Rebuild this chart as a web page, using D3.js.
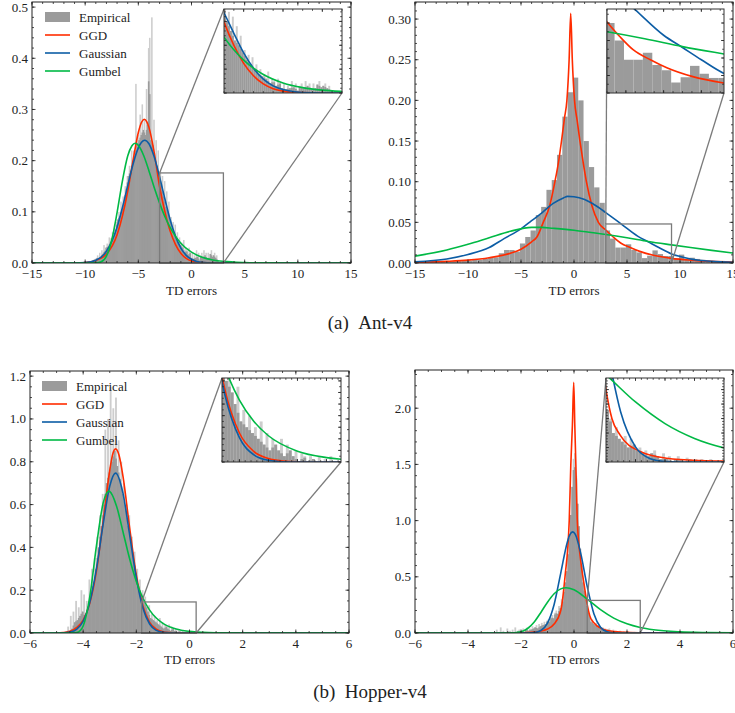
<!DOCTYPE html>
<html>
<head>
<meta charset="utf-8">
<script src="https://cdn.jsdelivr.net/npm/d3@7"></script>
<style>
  body { margin: 0; background: #fff; }
  svg text { fill: #222; }
</style>
</head>
<body>
<svg id="chart" width="735" height="713" font-family="'Liberation Serif', 'Times New Roman', 'DejaVu Serif', serif"></svg>
<script>
// ---- data ----
// (a) Ant-v4, left: fine-bin histogram, bin width 0.1 starting at -9.5
const antLeftHistStart = -9.5, antLeftBin = 0.1;
const antLeftHist = [
  0, 0.004, 0, 0.008, 0.003,   0.01, 0.015, 0.008, 0.02, 0.012,
  0.025, 0.018, 0.035, 0.024, 0.03,   0.038, 0.032, 0.05, 0.04, 0.048,
  0.06, 0.052, 0.075, 0.065, 0.08,   0.085, 0.1, 0.092, 0.12, 0.105,
  0.13, 0.12, 0.15, 0.145, 0.17,   0.17, 0.19, 0.18, 0.22, 0.2,
  0.22, 0.21, 0.35, 0.23, 0.25,   0.24, 0.29, 0.25, 0.31, 0.26,
  0.28, 0.25, 0.34, 0.27, 0.42,   0.44, 0.24, 0.48, 0.23, 0.28,
  0.2, 0.24, 0.19, 0.22, 0.17,   0.18, 0.15, 0.17, 0.13, 0.16,
  0.11, 0.14, 0.1, 0.12, 0.085,   0.09, 0.07, 0.08, 0.06, 0.075,
  0.05, 0.06, 0.04, 0.05, 0.035,   0.04, 0.03, 0.045, 0.02, 0.03,
  0.025, 0.015, 0.03, 0.02, 0.01,   0.02, 0.008, 0.015, 0.01, 0.025,
  0.012, 0.02, 0.005, 0.015, 0.02,   0.01, 0.025, 0.015, 0.02, 0.008,
  0.02, 0.01, 0.018, 0.025, 0.012,   0.015, 0.02, 0.01, 0.015, 0.005
];
const antLeftGGD = [[-15,0],[-11,0],[-10,0.001],[-9,0.005],[-8,0.017],[-7,0.055],[-6,0.14],[-5.5,0.2],[-5,0.255],[-4.7,0.275],[-4.45,0.281],[-4.2,0.276],[-4,0.265],[-3.5,0.215],[-3,0.149],[-2.5,0.1],[-2,0.062],[-1.5,0.036],[-1,0.019],[-0.5,0.009],[0,0.004],[1,0.0008],[2,0.0001],[3,0],[15,0]];
const antLeftGauss = [[-15,0],[-11,0.0001],[-10,0.0008],[-9,0.0052],[-8,0.0229],[-7,0.07],[-6.5,0.108],[-6,0.151],[-5.5,0.193],[-5,0.225],[-4.7,0.236],[-4.4,0.24],[-4,0.233],[-3.5,0.207],[-3,0.168],[-2.5,0.125],[-2,0.084],[-1.5,0.052],[-1,0.029],[-0.5,0.015],[0,0.0072],[0.5,0.0031],[1,0.0012],[2,0.0001],[3,0],[15,0]];
const antLeftGumbel = [[-15,0],[-9.5,0],[-9,0.0002],[-8.5,0.0023],[-8,0.0134],[-7.5,0.045],[-7,0.0986],[-6.5,0.16],[-6,0.209],[-5.6,0.229],[-5.3,0.234],[-5,0.23],[-4.5,0.21],[-4,0.18],[-3.5,0.147],[-3,0.117],[-2.5,0.0905],[-2,0.069],[-1.5,0.052],[-1,0.0387],[0,0.0211],[1,0.0113],[2,0.006],[3,0.0032],[5,0.0009],[7,0.0002],[10,0],[15,0]];

// (a) Ant-v4, right: bin width 0.5 starting at -15.1
const antRightHistStart = -15.1, antRightBin = 0.5;
const antRightHist = [
  0, 0.001, 0.0005, 0.001, 0.001, 0.0015, 0.002, 0.002, 0.0025, 0.003,
  0.003, 0.004, 0.004, 0.005, 0.007, 0.007, 0.012, 0.016, 0.016, 0.014,
  0.024, 0.032, 0.04, 0.059, 0.069, 0.09, 0.102, 0.133, 0.18, 0.21,
  0.228, 0.2, 0.15, 0.118, 0.093, 0.074, 0.04, 0.03, 0.019, 0.019,
  0.023, 0.016, 0.013, 0.006, 0.009, 0.0155, 0.011, 0.0086, 0.0086, 0.0057,
  0.0103, 0.0046, 0.0065, 0.005, 0.004, 0.003, 0.002, 0.002, 0.001, 0.001
];
const antRightGGD = [[-15,0.0008],[-12,0.002],[-10,0.0035],[-8,0.0065],[-6,0.012],[-5,0.017],[-4,0.026],[-3.5,0.032],[-2.9,0.05],[-2.3,0.07],[-1.8,0.1],[-1.45,0.125],[-1.18,0.15],[-0.9,0.178],[-0.67,0.2],[-0.46,0.25],[-0.31,0.307],[-0.16,0.25],[0.05,0.2],[0.3,0.175],[0.56,0.15],[0.85,0.125],[1.17,0.1],[1.7,0.07],[2.3,0.05],[3,0.0406],[3.7,0.032],[4.4,0.0246],[5.3,0.019],[6.2,0.0143],[7.5,0.0095],[9.2,0.0057],[11,0.0035],[13,0.002],[15,0.0012]];
const antRightGauss = [[-15,0.0015],[-12,0.005],[-10,0.0105],[-8,0.019],[-6.6,0.03],[-5,0.042],[-4,0.052],[-3,0.062],[-2,0.073],[-1,0.08],[-0.6,0.082],[0,0.0815],[1,0.078],[2,0.071],[3,0.062],[4.5,0.0475],[6,0.033],[7,0.026],[8,0.019],[9.2,0.0112],[10,0.008],[11,0.005],[13,0.002],[15,0.0008]];
const antRightGumbel = [[-15,0.0085],[-12,0.016],[-10,0.023],[-8,0.031],[-6,0.039],[-4,0.0438],[-3,0.0438],[-2,0.0427],[0,0.0402],[2,0.0368],[3,0.035],[5,0.031],[7,0.0265],[9.2,0.0223],[11,0.019],[13,0.0155],[15,0.0123]];

// (b) Hopper-v4, left: bin width 0.05 starting at -4.6
const hopLeftHistStart = -4.6, hopLeftBin = 0.05;
const hopLeftHist = [
  0.03, 0, 0.08, 0.02, 0.1,   0.05, 0.15, 0.06, 0.12, 0.08,
  0.2, 0.1, 0.18, 0.07, 0.15,   0.12, 0.25, 0.18, 0.3, 0.22,
  0.35, 0.3, 0.45, 0.4, 0.55,   0.5, 0.65, 0.6, 0.95, 0.7,
  1.0, 0.75, 1.15, 0.8, 1.05,   0.85, 1.1, 0.78, 0.9, 0.72,
  0.8, 0.65, 0.7, 0.58, 0.6,   0.5, 0.55, 0.42, 0.45, 0.35,
  0.38, 0.28, 0.3, 0.22, 0.25,   0.18, 0.2, 0.14, 0.17, 0.12,
  0.1, 0.13, 0.07, 0.09, 0.06,   0.08, 0.05, 0.06, 0.04, 0.07,
  0.03, 0.05, 0.02, 0.04, 0.03,   0.02, 0.04, 0.01, 0.03, 0.02,
  0.01, 0.02, 0, 0.015, 0.01,   0, 0.01, 0.005, 0, 0.01,
  0, 0.005, 0, 0.01, 0
];
const hopLeftGGD = [[-6,0],[-5,0],[-4.75,0.002],[-4.5,0.008],[-4.25,0.025],[-4,0.06],[-3.75,0.14],[-3.5,0.29],[-3.25,0.52],[-3,0.76],[-2.9,0.83],[-2.78,0.86],[-2.65,0.83],[-2.5,0.73],[-2.25,0.49],[-2,0.27],[-1.75,0.125],[-1.5,0.05],[-1.25,0.018],[-1,0.006],[-0.75,0.0018],[-0.5,0.0005],[0,0],[6,0]];
const hopLeftGauss = [[-6,0],[-5,0],[-4.75,0.0008],[-4.5,0.0042],[-4.25,0.0169],[-4,0.055],[-3.75,0.144],[-3.5,0.301],[-3.25,0.507],[-3,0.686],[-2.78,0.747],[-2.5,0.651],[-2.25,0.457],[-2,0.257],[-1.75,0.116],[-1.5,0.042],[-1.25,0.0123],[-1,0.0029],[-0.75,0.0005],[-0.5,0],[6,0]];
const hopLeftGumbel = [[-6,0],[-4.6,0],[-4.25,0.0019],[-4.1,0.0128],[-4,0.033],[-3.75,0.17],[-3.5,0.408],[-3.25,0.606],[-3.03,0.663],[-2.75,0.595],[-2.5,0.472],[-2.25,0.346],[-2,0.241],[-1.75,0.1625],[-1.5,0.107],[-1.25,0.07],[-1,0.0453],[-0.5,0.0186],[0,0.0076],[0.5,0.0031],[1,0.0013],[2,0.0002],[3,0],[6,0]];

// (b) Hopper-v4, right: bin width 0.05 starting at -3.0
const hopRightHistStart = -3.0, hopRightBin = 0.05;
const hopRightHist = [
  0, 0.03, 0, 0, 0.05, 0, 0.02, 0, 0, 0.04,
  0, 0.02, 0, 0.03, 0, 0.05, 0, 0.02, 0.03, 0,
  0.02, 0.04, 0, 0.03, 0.05, 0.02, 0.04, 0.03, 0.06, 0.04,
  0.05, 0.07, 0.04, 0.08, 0.06, 0.09, 0.07, 0.1, 0.08, 0.11,
  0.12, 0.1, 0.14, 0.16, 0.13, 0.18, 0.2, 0.17, 0.24, 0.22,
  0.3, 0.28, 0.38, 0.45, 0.55, 0.7, 0.85, 1.05, 1.3, 1.55,
  1.6, 1.4, 1.15, 0.95, 0.75, 0.6, 0.45, 0.38, 0.3, 0.24,
  0.18, 0.15, 0.1, 0.12, 0.08, 0.07, 0.09, 0.05, 0.08, 0.06,
  0.04, 0.05, 0.03, 0.04, 0.02, 0.03, 0.04, 0.02, 0.01, 0.03,
  0.01, 0.02, 0, 0.01, 0.02, 0.01, 0, 0.015, 0.01, 0,
  0.01, 0, 0.01, 0, 0, 0.01, 0, 0, 0.005, 0
];
const hopRightGGD = [[-6,0],[-3,0.0005],[-2,0.002],[-1.5,0.008],[-1.25,0.018],[-1,0.035],[-0.75,0.08],[-0.5,0.2],[-0.34,0.5],[-0.18,1.0],[-0.12,1.5],[-0.06,1.85],[-0.01,2.23],[0.03,1.85],[0.07,1.5],[0.125,1.0],[0.25,0.65],[0.39,0.42],[0.5,0.25],[0.6,0.15],[0.74,0.093],[1.08,0.036],[1.53,0.013],[2.1,0.005],[3,0.0015],[4,0.0005],[6,0]];
const hopRightGauss = [[-6,0],[-2,0],[-1.75,0.0003],[-1.5,0.004],[-1.25,0.022],[-1,0.088],[-0.75,0.254],[-0.5,0.533],[-0.25,0.81],[-0.15,0.877],[-0.05,0.9],[0.05,0.877],[0.25,0.713],[0.5,0.412],[0.75,0.172],[1,0.052],[1.25,0.0115],[1.5,0.0018],[1.75,0.0002],[2,0],[6,0]];
const hopRightGumbel = [[-6,0],[-3,0],[-2.5,0.0002],[-2,0.0113],[-1.75,0.04],[-1.5,0.098],[-1.25,0.183],[-1,0.274],[-0.75,0.349],[-0.5,0.3925],[-0.3,0.403],[0,0.384],[0.5,0.3008],[1,0.2072],[1.5,0.1326],[2,0.0814],[2.5,0.0487],[3,0.0287],[4,0.0098],[5,0.0033],[6,0.0011]];

const seriesNames = ["Empirical", "GGD", "Gaussian", "Gumbel"];
const captions = ["(a)\u00a0\u00a0Ant-v4", "(b)\u00a0\u00a0Hopper-v4"];

// ---- styling ----
const histColor = "#9b9b9b";
const spikeColor = "#cdcdcd";   // thin isolated bins render lighter in the original
const curveColors = {GGD: "#FF2C00", Gaussian: "#0C5DA5", Gumbel: "#00B945"};
const frameColor = "#222";
const markColor = "#7b7b7b";

const steps = (a, b, s) => d3.range(Math.round((b - a) / s) + 1).map(i => +(a + i * s).toFixed(6));

const panels = [
  {
    id: "antL", box: {left: 32, right: 351, top: 2, bottom: 263},
    xDomain: [-15, 15], yDomain: [0, 0.51],
    xMajor: steps(-15, 15, 5), xMinor: steps(-15, 15, 1),
    yMajor: steps(0, 0.5, 0.1), yMinor: steps(0, 0.5, 0.02), yFmt: ".1f",
    hist: antLeftHist, histStart: antLeftHistStart, bin: antLeftBin, pad: 0.5, fine: true,
    curves: {GGD: antLeftGGD, Gaussian: antLeftGauss, Gumbel: antLeftGumbel},
    zoomX: [-3, 3], zoomY: [0, 0.176],
    inset: {left: 224, right: 342, top: 9, bottom: 93,
            xMajor: [-2, 0, 2], xMinor: steps(-3, 3, 0.5), yMajor: steps(0, 0.15, 0.05), yMinor: steps(0, 0.17, 0.01)},
    legend: {x: 45, y: 17}, labelY: 295
  },
  {
    id: "antR", box: {left: 415, right: 733, top: 2, bottom: 263},
    xDomain: [-15, 15], yDomain: [0, 0.321],
    xMajor: steps(-15, 15, 5), xMinor: steps(-15, 15, 1),
    yMajor: steps(0, 0.3, 0.05), yMinor: steps(0, 0.32, 0.01), yFmt: ".2f",
    hist: antRightHist, histStart: antRightHistStart, bin: antRightBin, pad: 0, fine: false,
    curves: {GGD: antRightGGD, Gaussian: antRightGauss, Gumbel: antRightGumbel},
    zoomX: [3, 9.2], zoomY: [0, 0.048],
    inset: {left: 607, right: 724, top: 9, bottom: 93,
            xMajor: [4, 6, 8], xMinor: steps(3, 9, 0.5), yMajor: steps(0, 0.04, 0.01), yMinor: steps(0, 0.045, 0.005)},
    labelY: 295
  },
  {
    id: "hopL", box: {left: 30, right: 349, top: 371, bottom: 633},
    xDomain: [-6, 6], yDomain: [0, 1.224],
    xMajor: steps(-6, 6, 2), xMinor: steps(-6, 6, 0.5),
    yMajor: steps(0, 1.2, 0.2), yMinor: steps(0, 1.2, 0.05), yFmt: ".1f",
    hist: hopLeftHist, histStart: hopLeftHistStart, bin: hopLeftBin, pad: 0.5, fine: true,
    curves: {GGD: hopLeftGGD, Gaussian: hopLeftGauss, Gumbel: hopLeftGumbel},
    zoomX: [-1.8, 0.25], zoomY: [0, 0.145],
    inset: {left: 222, right: 341, top: 378, bottom: 462,
            xMajor: [-1.5, -1, -0.5, 0], xMinor: steps(-1.8, 0.2, 0.1), yMajor: steps(0, 0.14, 0.02), yMinor: steps(0, 0.14, 0.01)},
    legend: {x: 42, y: 386}, labelY: 664
  },
  {
    id: "hopR", box: {left: 415, right: 733, top: 370, bottom: 633},
    xDomain: [-6, 6], yDomain: [0, 2.34],
    xMajor: steps(-6, 6, 2), xMinor: steps(-6, 6, 0.5),
    yMajor: steps(0, 2, 0.5), yMinor: steps(0, 2.3, 0.1), yFmt: ".1f",
    hist: hopRightHist, histStart: hopRightHistStart, bin: hopRightBin, pad: 0.5, fine: true,
    curves: {GGD: hopRightGGD, Gaussian: hopRightGauss, Gumbel: hopRightGumbel},
    zoomX: [0.5, 2.5], zoomY: [0, 0.29],
    inset: {left: 606, right: 724, top: 378, bottom: 462,
            xMajor: [1, 1.5, 2], xMinor: steps(0.5, 2.5, 0.1), yMajor: steps(0, 0.25, 0.05), yMinor: steps(0, 0.28, 0.01)},
    labelY: 664
  }
];

const svg = d3.select("#chart");
svg.append("rect").attr("width", 735).attr("height", 713).attr("fill", "#fff");
const defs = svg.append("defs");

function drawData(g, x, y, p, clipId, pad) {
  const h = p.hist;
  const bins = h.map((v, i) => {
    const nb = ((h[i - 1] || 0) + (h[i + 1] || 0)) / 2;
    return {x0: p.histStart + i * p.bin, x1: p.histStart + (i + 1) * p.bin, v,
            core: p.fine ? Math.min(v, nb) : v};
  }).filter(d => d.v > 0);
  const layer = g.append("g").attr("clip-path", `url(#${clipId})`);

  const barLayer = (key, color) => layer.append("g").selectAll("rect")
    .data(bins.filter(d => d[key] > 0))
    .join("rect")
    .attr("x", d => x(d.x0))
    .attr("width", d => x(d.x1) - x(d.x0) + pad)
    .attr("y", d => y(d[key]))
    .attr("height", d => y(0) - y(d[key]))
    .attr("fill", color);
  if (p.fine) barLayer("v", spikeColor);
  barLayer("core", histColor);

  const line = d3.line()
    .x(d => x(d[0]))
    .y(d => y(d[1]))
    .curve(d3.curveMonotoneX);

  Object.entries(p.curves).forEach(([name, pts]) => {
    layer.append("path")
      .datum(pts)
      .attr("fill", "none")
      .attr("stroke", curveColors[name])
      .attr("stroke-width", 1.6)
      .attr("d", line);
  });
}

function drawTicks(g, x, y, box, xMajor, xMinor, yMajor, yMinor, majLen, minLen) {
  const t = g.append("g").attr("stroke", frameColor).attr("stroke-width", 0.8);
  const vx = (vals, len) => vals.forEach(v => {
    const px = x(v);
    if (px < box.left - 0.5 || px > box.right + 0.5) return;
    t.append("line").attr("x1", px).attr("x2", px).attr("y1", box.bottom).attr("y2", box.bottom - len);
    t.append("line").attr("x1", px).attr("x2", px).attr("y1", box.top).attr("y2", box.top + len);
  });
  const vy = (vals, len) => vals.forEach(v => {
    const py = y(v);
    if (py < box.top - 0.5 || py > box.bottom + 0.5) return;
    t.append("line").attr("y1", py).attr("y2", py).attr("x1", box.left).attr("x2", box.left + len);
    t.append("line").attr("y1", py).attr("y2", py).attr("x1", box.right).attr("x2", box.right - len);
  });
  vx(xMajor, majLen); vx(xMinor, minLen);
  vy(yMajor, majLen); vy(yMinor, minLen);
}

panels.forEach(p => {
  const b = p.box;
  const g = svg.append("g");
  const x = d3.scaleLinear().domain(p.xDomain).range([b.left, b.right]);
  const y = d3.scaleLinear().domain(p.yDomain).range([b.bottom, b.top]);

  defs.append("clipPath").attr("id", p.id + "-clip")
    .append("rect").attr("x", b.left).attr("y", b.top)
    .attr("width", b.right - b.left).attr("height", b.bottom - b.top);

  drawData(g, x, y, p, p.id + "-clip", p.pad);

  // zoom region and connector lines
  const zx0 = x(p.zoomX[0]), zx1 = x(p.zoomX[1]);
  const zy0 = y(p.zoomY[0]), zy1 = y(p.zoomY[1]);
  const ins = p.inset;
  const mark = g.append("g").attr("stroke", markColor).attr("stroke-width", 1.3).attr("fill", "none");
  mark.append("rect").attr("x", zx0).attr("y", zy1).attr("width", zx1 - zx0).attr("height", zy0 - zy1);
  mark.append("line").attr("x1", zx0).attr("y1", zy1).attr("x2", ins.left).attr("y2", ins.top);
  mark.append("line").attr("x1", zx1).attr("y1", zy0).attr("x2", ins.right).attr("y2", ins.bottom);

  // inset axes
  const ig = g.append("g");
  const ix = d3.scaleLinear().domain(p.zoomX).range([ins.left, ins.right]);
  const iy = d3.scaleLinear().domain(p.zoomY).range([ins.bottom, ins.top]);
  defs.append("clipPath").attr("id", p.id + "-iclip")
    .append("rect").attr("x", ins.left).attr("y", ins.top)
    .attr("width", ins.right - ins.left).attr("height", ins.bottom - ins.top);
  ig.append("rect").attr("x", ins.left).attr("y", ins.top)
    .attr("width", ins.right - ins.left).attr("height", ins.bottom - ins.top)
    .attr("fill", "#fff");
  drawData(ig, ix, iy, p, p.id + "-iclip", 0);
  drawTicks(ig, ix, iy, ins, ins.xMajor, ins.xMinor, ins.yMajor, ins.yMinor, 3, 1.8);
  ig.append("rect").attr("x", ins.left).attr("y", ins.top)
    .attr("width", ins.right - ins.left).attr("height", ins.bottom - ins.top)
    .attr("fill", "none").attr("stroke", "#333").attr("stroke-width", 1);

  // main frame, ticks and labels
  drawTicks(g, x, y, b, p.xMajor, p.xMinor, p.yMajor, p.yMinor, 3.5, 2);
  g.append("rect").attr("x", b.left).attr("y", b.top)
    .attr("width", b.right - b.left).attr("height", b.bottom - b.top)
    .attr("fill", "none").attr("stroke", frameColor).attr("stroke-width", 1);

  const xf = d3.format("d"), yf = d3.format(p.yFmt);
  g.append("g").selectAll("text").data(p.xMajor).join("text")
    .attr("x", d => x(d)).attr("y", b.bottom + 15)
    .attr("text-anchor", "middle").attr("font-size", 13)
    .text(d => xf(d));
  g.append("g").selectAll("text").data(p.yMajor).join("text")
    .attr("x", b.left - 4).attr("y", d => y(d)).attr("dy", "0.35em")
    .attr("text-anchor", "end").attr("font-size", 13)
    .text(d => yf(d));
  g.append("text")
    .attr("x", (b.left + b.right) / 2).attr("y", p.labelY)
    .attr("text-anchor", "middle").attr("font-size", 13)
    .text("TD errors");

  if (p.legend) {
    const lg = g.append("g").attr("transform", `translate(${p.legend.x},${p.legend.y})`);
    seriesNames.forEach((name, i) => {
      const row = lg.append("g").attr("transform", `translate(0,${i * 18})`);
      if (name === "Empirical") {
        row.append("rect").attr("x", 0).attr("y", -5).attr("width", 25).attr("height", 10).attr("fill", histColor);
      } else {
        row.append("line").attr("x1", 0).attr("x2", 25).attr("y1", 0).attr("y2", 0)
          .attr("stroke", curveColors[name]).attr("stroke-width", 1.6);
      }
      row.append("text").attr("x", 34).attr("y", 0).attr("dy", "0.35em")
        .attr("font-size", 13).text(name);
    });
  }
});

svg.selectAll("text.caption").data(captions).join("text")
  .attr("class", "caption")
  .attr("x", 370).attr("y", (d, i) => i === 0 ? 329 : 698)
  .attr("text-anchor", "middle").attr("font-size", 19)
  .text(d => d);
</script>
</body>
</html>
